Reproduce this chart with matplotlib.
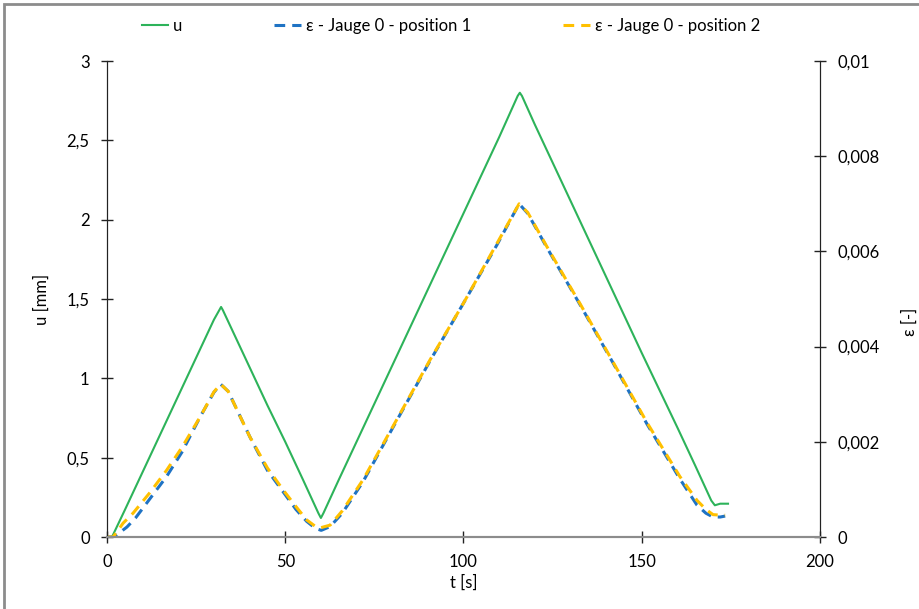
import matplotlib.pyplot as plt
from matplotlib.ticker import FuncFormatter, MultipleLocator
from matplotlib.patches import Rectangle

plt.rcParams['font.family'] = ['Lato', 'DejaVu Sans']

# deplacement u [mm]
t_u = [0, 1.4, 5, 10, 15, 20, 25, 30, 31.5, 32, 32.5, 35, 40, 45, 50, 55, 59.3, 60, 60.7, 65,
       70, 80, 90, 100, 110, 115.2, 115.8, 116.4, 120, 130, 140, 150, 160, 165, 169.5, 170.5, 172, 174.2]
u = [0, 0, 0.17, 0.41, 0.65, 0.89, 1.13, 1.37, 1.43, 1.45, 1.43, 1.31, 1.07, 0.83, 0.60, 0.36, 0.15, 0.12, 0.15, 0.36,
     0.60, 1.08, 1.56, 2.04, 2.52, 2.78, 2.80, 2.78, 2.60, 2.12, 1.64, 1.16, 0.69, 0.45, 0.23, 0.20, 0.21, 0.21]

# deformation jauge 0 - position 1
t_e1 = [0, 1.7, 3, 5.6, 8, 12, 16.7, 21, 26.1, 30, 31.9, 34, 40.1, 45, 49.4, 53, 56, 58.5, 60.1, 62.6,
        66, 71.8, 81.3, 90.6, 99.9, 109.4, 115.6, 118, 123.4, 132.7, 142, 151.5, 160.7, 165.5, 168, 170, 172, 173.4]
e1 = [0, 0, 0.00006, 0.00021, 0.00040, 0.00080, 0.00127, 0.00178, 0.00252, 0.00304, 0.00321, 0.00306, 0.00210, 0.00140, 0.00095, 0.00058, 0.00033, 0.00018, 0.00014, 0.00022,
      0.00050, 0.00116, 0.00245, 0.00370, 0.00490, 0.00614, 0.00700, 0.00680, 0.00608, 0.00488, 0.00365, 0.00237, 0.00122, 0.00067, 0.00050, 0.00042, 0.00042, 0.00044]

# deformation jauge 0 - position 2
t_e2 = [0, 1.7, 3, 4.5, 7.3, 12, 16.7, 21, 26.1, 30, 31.9, 34, 40.1, 45, 49.4, 53, 56, 58.5, 59.7, 62.6,
        66, 71.8, 81.3, 90.6, 99.9, 109.4, 115.6, 118, 123.4, 132.7, 142, 151.5, 160.7, 165.5, 168, 170, 172, 173.4]
e2 = [0, 0, 0.00013, 0.00029, 0.00050, 0.00093, 0.00140, 0.00188, 0.00252, 0.00305, 0.00321, 0.00306, 0.00210, 0.00145, 0.00099, 0.00064, 0.00036, 0.00022, 0.00019, 0.00025,
      0.00055, 0.00120, 0.00247, 0.00372, 0.00490, 0.00617, 0.00700, 0.00682, 0.00610, 0.00490, 0.00367, 0.00240, 0.00127, 0.00077, 0.00058, 0.00047, 0.00046, 0.00046]

fig = plt.figure(figsize=(9.2, 6.09), dpi=100)
ax = fig.add_axes([0.1163, 0.1182, 0.775, 0.7816])
ax2 = ax.twinx()

l1, = ax.plot(t_u, u, color='#2db35a', lw=1.5, label='u')
l2, = ax2.plot(t_e1, e1, color='#1f73c4', lw=2.2, dashes=(3.5, 2.3), label='ε - Jauge 0 - position 1')
l3, = ax2.plot(t_e2, e2, color='#ffc000', lw=2.2, dashes=(3.5, 2.3), label='ε - Jauge 0 - position 2')

ax.set_xlim(0, 200)
ax.set_ylim(0, 3)
ax2.set_ylim(0, 0.01)
ax.xaxis.set_major_locator(MultipleLocator(50))
ax.yaxis.set_major_locator(MultipleLocator(0.5))
ax2.yaxis.set_major_locator(MultipleLocator(0.002))

comma = FuncFormatter(lambda v, p: ('%g' % v).replace('.', ','))
ax.yaxis.set_major_formatter(comma)
ax2.yaxis.set_major_formatter(FuncFormatter(lambda v, p: ('%g' % round(v, 4)).replace('.', ',')))

for a in (ax, ax2):
    a.spines['top'].set_visible(False)
    a.spines['bottom'].set_color('#8c8c8c')
    a.spines['bottom'].set_linewidth(1.5)
    a.spines['left'].set_color('#222222')
    a.spines['right'].set_color('#222222')
ax.tick_params(axis='y', direction='inout', length=9, width=1, labelsize=12, pad=8, color='#222222')
ax2.tick_params(axis='y', direction='inout', length=9, width=1, labelsize=12, pad=8, color='#222222')
ax.tick_params(axis='x', direction='inout', length=9, width=1, labelsize=12, pad=8, color='#222222')

ax.set_xlabel('t [s]', fontsize=12, labelpad=3)
ax.set_ylabel('u [mm]', fontsize=12, labelpad=12)
# titre axe secondaire, lu de bas en haut comme dans Excel
fig.text(910 / 920, 1 - 322 / 609, 'ε [-]', fontsize=12, rotation=90, ha='center', va='center')

fig.legend(handles=[l1, l2, l3], loc='upper center', bbox_to_anchor=(0.49, 0.995), ncol=3,
           frameon=False, fontsize=12, handlelength=1.6, handletextpad=0.3, columnspacing=5.5)

fig.patches.append(Rectangle((4 / 920, -0.1), 1.2, 1 - 4 / 609 + 0.1, transform=fig.transFigure,
                             fill=False, edgecolor='#8c8c8c', lw=2))

fig.savefig('out.png', dpi=100)
